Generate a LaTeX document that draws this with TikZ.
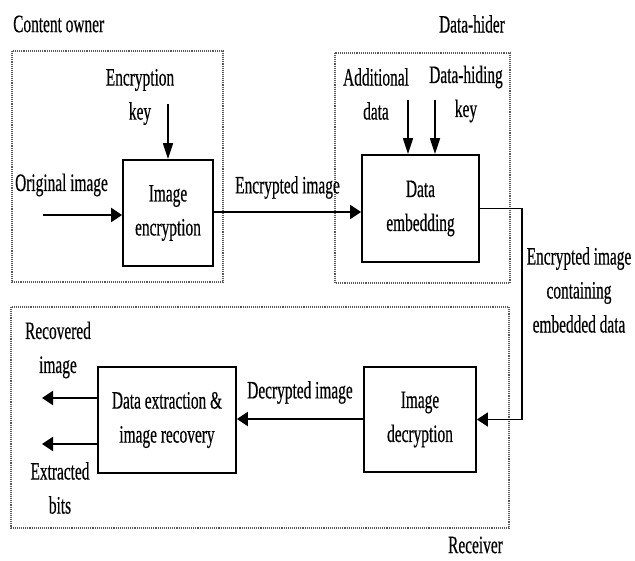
\documentclass[tikz,border=0pt]{standalone}
\usepackage{fontspec}
\setmainfont{Liberation Serif}[FakeStretch=0.615,FakeBold=0.4]
\usepackage{tikz}
\usetikzlibrary{arrows.meta}

\begin{document}
\begin{tikzpicture}[x=1pt,y=-1pt,font=\fontsize{25}{34}\selectfont]

\tikzstyle{block} = [draw, rectangle, line width=1.8pt, align=center, inner sep=0pt];
\tikzstyle{party} = [draw=black!65, densely dotted, line width=1.1pt];
\tikzstyle{plain} = [align=center, inner sep=0pt];
\tikzstyle{hflow} = [line width=2.4pt, -{Triangle[length=11pt,width=14pt]}];
\tikzstyle{vflow} = [line width=1.5pt, -{Triangle[length=16pt,width=10pt]}];

\useasboundingbox (0,0) rectangle (635,561);

% the three parties
\draw[party] (12,51) rectangle (223,282);
\draw[party] (335,53) rectangle (510,283);
\draw[party] (11,307) rectangle (509,528);
\node[plain,anchor=west] (owner) at (13,24) {Content owner};
\node[plain,anchor=east] (hider) at (505,24) {Data-hider};
\node[plain,anchor=east] (recv) at (503,545) {Receiver};

% blocks
\node[block,minimum width=90pt,minimum height=106pt] (enc) at (168,213) {Image\\encryption};
\node[block,minimum width=117pt,minimum height=107pt] (emb) at (420.5,208.5) {Data\\embedding};
\node[block,minimum width=112pt,minimum height=105pt] (dec) at (420,419.5) {Image\\decryption};
\node[block,minimum width=138pt,minimum height=106pt] (ext) at (167,420) {Data extraction \&\\image recovery};

% inputs and outputs
\node[plain] (ekey) at (140,97) {Encryption\\key};
\node[plain] (orig) at (61.5,185) {Original image};
\node[plain] (adata) at (376,94) {Additional\\data};
\node[plain] (hkey) at (466,94) {Data-hiding\\key};
\node[plain] (rimg) at (58,350) {Recovered\\image};
\node[plain] (bits) at (60,488) {Extracted\\bits};
\coordinate (ekeyin) at (168,104);
\coordinate (origin) at (43,215);
\coordinate (adatain) at (408,100);
\coordinate (hkeyin) at (435,100);
\coordinate (rimgout) at (42,398);
\coordinate (bitsout) at (42,444);

\draw[vflow] (ekeyin) -- (enc.north);
\draw[hflow] (origin) -- (origin -| enc.west);
\draw[vflow] (adatain) -- (adatain |- emb.north);
\draw[vflow] (hkeyin) -- (hkeyin |- emb.north);
\draw[hflow] (enc.east |- 0,212) -- node[plain,above=12pt] (encimg) {Encrypted image} (emb.west |- 0,212);
\draw[hflow,line width=1.5pt] (emb.east) -- ++(42,0) |- (dec.east);
\node[plain] (cimg) at (579,290) {Encrypted image\\containing\\embedded data};
\draw[hflow] (dec.west |- 0,419) -- node[plain,above=14pt] (decimg) {Decrypted image} (ext.east |- 0,419);
\draw[hflow] (ext.west |- rimgout) -- (rimgout);
\draw[hflow] (ext.west |- bitsout) -- (bitsout);

\end{tikzpicture}
\end{document}
